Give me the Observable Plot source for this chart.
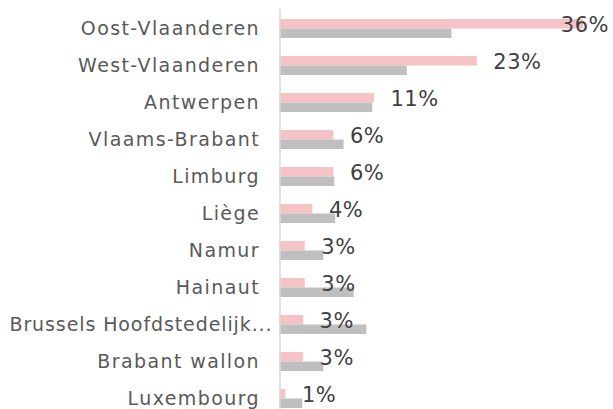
<!DOCTYPE html>
<html><head><meta charset="utf-8">
<script src="https://cdn.jsdelivr.net/npm/d3@7"></script>
<script src="https://cdn.jsdelivr.net/npm/@observablehq/plot@0.6"></script>
<style>body{margin:0;background:#fff}</style>
</head><body><div id="chart"></div>
<script>
const regions = ["Oost-Vlaanderen","West-Vlaanderen","Antwerpen","Vlaams-Brabant","Limburg","Liège","Namur","Hainaut","Brussels Hoofdstedelijk...","Brabant wallon","Luxembourg"];
const share = [36.0, 23.4, 11.2, 6.4, 6.4, 3.9, 3.0, 3.0, 2.8, 2.8, 0.7];
const reference = [20.4, 15.1, 11.0, 7.6, 6.5, 6.6, 5.2, 8.8, 10.3, 5.2, 2.7];
const shareLabels = ["36%","23%","11%","6%","6%","4%","3%","3%","3%","3%","1%"];

const data = regions.map((r, i) => ({region: r, share: share[i], ref: reference[i], label: shareLabels[i]}));
const isLong = d => d.region.endsWith("...");
const font = "DejaVu Sans";

const catStyle = {fill: "#595959", fontSize: 19};
const valStyle = {fill: "#404040", fontSize: 21};

const chart = Plot.plot({
  width: 613, height: 409,
  marginLeft: 279.5, marginRight: 0.5, marginTop: 18.5, marginBottom: 0,
  style: {fontFamily: font, background: "#fff"},
  x: {domain: [0, 39.5], axis: null},
  y: {domain: regions, paddingInner: 0.49, paddingOuter: 0, axis: null},
  marks: [
    Plot.barX(data, {x: "share", y: "region", fill: "#F5C3C5", insetBottom: 9.5}),
    Plot.barX(data, {x: "ref", y: "region", fill: "#BFBFBF", insetTop: 9.5}),
    Plot.ruleX([0], {stroke: "#D9D9D9", strokeWidth: 1.5, insetTop: -9.5}),
    Plot.text(data.filter(d => !isLong(d)), {y: "region", text: "region", frameAnchor: "left", textAnchor: "end", dx: -20, ...catStyle}),
    Plot.text(data.filter(isLong), {y: "region", text: "region", frameAnchor: "left", textAnchor: "end", dx: -7.5, ...catStyle}),
    Plot.text(data.filter(d => d.share < 30), {x: "share", y: "region", text: "label", textAnchor: "start", dx: 16, dy: -3.5, ...valStyle}),
    Plot.text(data.filter(d => d.share >= 30), {y: "region", text: "label", frameAnchor: "right", textAnchor: "end", dx: -4, dy: -3.5, ...valStyle})
  ]
});
const catGroups = d3.select(chart).selectAll('g[font-size="19"]').nodes();
d3.select(catGroups[0]).style("letter-spacing", "1.4px");
d3.select(catGroups[1]).style("letter-spacing", "0.9px");
d3.select(chart).selectAll('g[font-size="21"]').style("letter-spacing", "0.5px");
document.getElementById("chart").appendChild(chart);
</script>
</body></html>
